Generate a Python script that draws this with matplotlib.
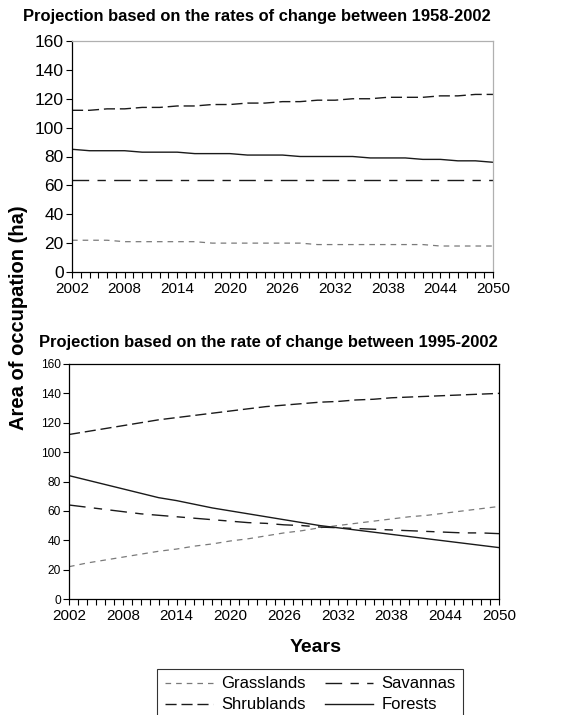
import numpy as np
import matplotlib
matplotlib.use("Agg")
import matplotlib.pyplot as plt
from matplotlib.ticker import MultipleLocator, FixedLocator

plt.rcParams['font.family'] = ['Liberation Sans', 'DejaVu Sans']

years = list(range(2002, 2051, 2))
xtick_years = list(range(2002, 2051, 6))

# projection 1958-2002 rates
grass_a = [22, 22, 22, 21, 21, 21, 21, 21, 20, 20, 20, 20, 20, 20, 19, 19, 19, 19, 19, 19, 19, 18, 18, 18, 18]
shrub_a = [112, 112, 113, 113, 114, 114, 115, 115, 116, 116, 117, 117, 118, 118, 119, 119, 120, 120, 121, 121, 121, 122, 122, 123, 123]
sav_a = [64] * 25
forest_a = [85, 84, 84, 84, 83, 83, 83, 82, 82, 82, 81, 81, 81, 80, 80, 80, 80, 79, 79, 79, 78, 78, 77, 77, 76]

# projection 1995-2002 rate
grass_b = [22, 24.5, 26.5, 28.5, 30.5, 32.5, 34, 36, 37.5, 39.5, 41, 43, 45, 46.5, 48.5, 50, 51.5, 53, 54.5, 56, 57, 58.5, 60, 61.5, 63]
shrub_b = [112, 114, 116, 118, 120, 122, 123.5, 125, 126.5, 128, 129.5, 131, 132, 133, 134, 134.5, 135.5, 136, 137, 137.5, 138, 138.5, 139, 139.5, 140]
sav_b = [64, 62.5, 61, 59.5, 58, 57, 56, 55, 54, 53, 52, 51.5, 50.5, 50, 49, 48.5, 48, 47.5, 47, 46.5, 46, 45.5, 45, 45, 44.5]
forest_b = [84, 81, 78, 75, 72, 69, 67, 64.5, 62, 60, 58, 56, 54, 52, 50, 48.5, 47, 45.5, 44, 42.5, 41, 39.5, 38, 36.5, 35]

labels = ['Grasslands', 'Shrublands', 'Savannas', 'Forests']
styles = {
    'Grasslands': dict(color='#7a7a7a', lw=0.9, ls=(0, (4.5, 4))),
    'Shrublands': dict(color='#1a1a1a', lw=1.0, ls=(0, (8, 3.5))),
    'Savannas': dict(color='#1a1a1a', lw=1.0, ls=(0, (12, 6, 6, 6))),
    'Forests': dict(color='#1a1a1a', lw=1.0, ls='-'),
}

fig = plt.figure(figsize=(5.7, 7.15), dpi=100)
ax1 = fig.add_axes([72/570, 1 - 272/715, 421/570, 231/715])
ax2 = fig.add_axes([69/570, 1 - 599/715, 430/570, 235/715])

def setup(ax, yfs, gray_frame):
    ax.set_xlim(2002, 2050)
    ax.set_ylim(0, 160)
    ax.xaxis.set_major_locator(FixedLocator(xtick_years))
    ax.xaxis.set_minor_locator(MultipleLocator(1))
    ax.yaxis.set_major_locator(MultipleLocator(20))
    ax.tick_params(axis='x', which='both', direction='out', length=4, width=0.8, labelsize=11, pad=3)
    ax.tick_params(axis='y', direction='out', length=4, width=0.8, labelsize=yfs, pad=2)
    for s in ax.spines.values():
        s.set_linewidth(0.9)
    if gray_frame:
        ax.spines['top'].set_color('#b0b0b0')
        ax.spines['right'].set_color('#b0b0b0')

setup(ax1, 12.5, True)
setup(ax2, 8.6, False)

for lab, vals in zip(labels, [grass_a, shrub_a, sav_a, forest_a]):
    ax1.plot(years, vals, label=lab, **styles[lab])
for lab, vals in zip(labels, [grass_b, shrub_b, sav_b, forest_b]):
    ax2.plot(years, vals, label=lab, **styles[lab])

fig.text(257/570, 1 - 17/715, 'Projection based on the rates of change between 1958-2002',
         ha='center', va='center', fontsize=11.9, fontweight='bold')
fig.text(268/570, 1 - 342/715, 'Projection based on the rate of change between 1995-2002',
         ha='center', va='center', fontsize=11.9, fontweight='bold')
fig.text(19/570, 1 - 318/715, 'Area of occupation (ha)', rotation=90,
         ha='center', va='center', fontsize=14.5, fontweight='bold')
fig.text(316/570, 1 - 647/715, 'Years', ha='center', va='center', fontsize=14, fontweight='bold')

handles, labs = ax2.get_legend_handles_labels()
leg = fig.legend(handles, labs, loc='upper left', bbox_to_anchor=(157/570, 1 - 669/715),
                 ncol=2, fontsize=12, frameon=True, fancybox=False, edgecolor='black',
                 handlelength=2.9, handletextpad=0.5, columnspacing=1.15,
                 borderpad=0.45, labelspacing=0.35, borderaxespad=0)
leg.get_frame().set_linewidth(0.8)

fig.savefig('out.png', dpi=100)
